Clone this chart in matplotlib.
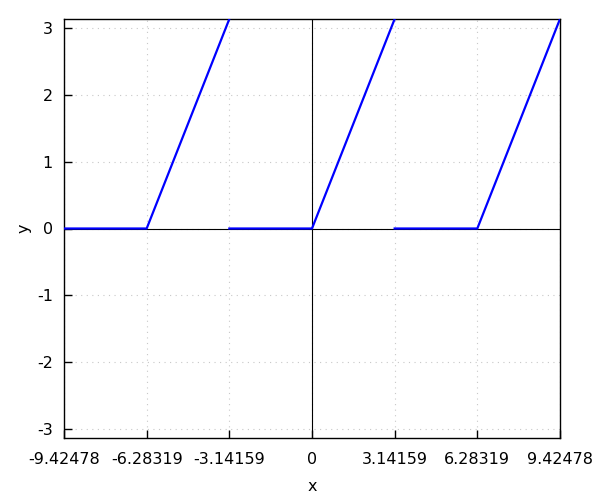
import numpy as np
import matplotlib
matplotlib.use("Agg")
import matplotlib.pyplot as plt

# periodic function: 0 on [-pi, 0], x on [0, pi]; nan marks the jumps
xs = [-9.42478, -6.28319, -3.14159, np.nan, -3.14159, 0.0, 3.14159, np.nan, 3.14159, 6.28319, 9.42478]
ys = [0.0, 0.0, 3.14159, np.nan, 0.0, 0.0, 3.14159, np.nan, 0.0, 0.0, 3.14159]

xticks = [-9.42478, -6.28319, -3.14159, 0, 3.14159, 6.28319, 9.42478]
xlabels = ["-9.42478", "-6.28319", "-3.14159", "0", "3.14159", "6.28319", "9.42478"]
yticks = [-3, -2, -1, 0, 1, 2, 3]

plt.rcParams['font.family'] = ['DejaVu Sans']
plt.rcParams['axes.unicode_minus'] = False
fig = plt.figure(figsize=(6, 5), dpi=100)
ax = fig.add_axes([0.1067, 0.124, 0.8266, 0.838])

ax.grid(True, color="#c8c8c8", linestyle=(0, (1, 4)), lw=0.8, zorder=0)
ax.set_axisbelow(True)
ax.axhline(0, color="black", lw=0.8, zorder=2)
ax.axvline(0, color="black", lw=0.8, zorder=2)
ax.plot(xs, ys, color="#0000ff", lw=1.6, zorder=3)

ax.set_xlim(-3 * np.pi, 3 * np.pi)
ax.set_ylim(-np.pi, np.pi)
ax.set_xticks(xticks)
ax.set_xticklabels(xlabels)
ax.set_yticks(yticks)
ax.tick_params(direction="in", length=6, width=1, labelsize=11.5,
               top=False, right=False, color="black")
ax.tick_params(axis="x", pad=10)
ax.tick_params(axis="y", pad=8)
for s in ax.spines.values():
    s.set_linewidth(1)
ax.set_xlabel("x", fontsize=11.5, labelpad=9)
ax.set_ylabel("y", fontsize=11.5, labelpad=4)

fig.savefig("out.png", dpi=100)
